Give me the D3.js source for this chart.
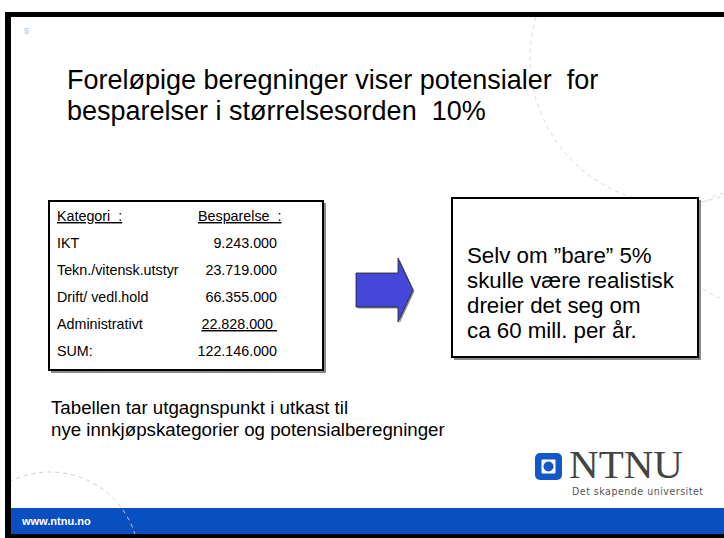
<!DOCTYPE html>
<html>
<head>
<meta charset="utf-8">
<script src="https://cdn.jsdelivr.net/npm/d3@7"></script>
<style>
  body { margin: 0; background: #fff; }
  svg { display: block; font-family: Arial, "Liberation Sans", sans-serif; }
  svg text { white-space: pre; }
</style>
</head>
<body>
<svg id="slide" width="724" height="538"></svg>
<script>
const titleLines = ['Foreløpige beregninger viser potensialer  for', 'besparelser i størrelsesorden  10%'];
const headers = ['Kategori  :', 'Besparelse  :'];
const categories = ['IKT', 'Tekn./vitensk.utstyr', 'Drift/ vedl.hold', 'Administrativt'];
const savings = [9243000, 23719000, 66355000, 22828000];
const sumLabel = 'SUM:';
const sumValue = 122146000;
const calloutLines = ['Selv om \u201dbare\u201d 5%', 'skulle være realistisk', 'dreier det seg om', 'ca 60 mill. per år.'];
const noteLines = ['Tabellen tar utgagnspunkt i utkast til', 'nye innkjøpskategorier og potensialberegninger'];

const svg = d3.select('#slide');
const W = 724, H = 538;
const nok = d3.formatLocale({ decimal: ',', thousands: '.', grouping: [3], currency: ['', ''] }).format(',d');

// frame
svg.append('rect').attr('x', 0).attr('y', 0).attr('width', W).attr('height', H).attr('fill', '#fff');
svg.append('rect').attr('x', 11).attr('y', 508).attr('width', W - 11).attr('height', 26).attr('fill', '#0a4fc2');

// dashed decoration circles
const clip = svg.append('clipPath').attr('id', 'inner');
clip.append('rect').attr('x', 11).attr('y', 17).attr('width', W - 11).attr('height', 517);
const deco = svg.append('g').attr('clip-path', 'url(#inner)')
  .attr('fill', 'none').attr('stroke-width', 1).attr('stroke-dasharray', '4,4');
deco.append('circle').attr('cx', 676).attr('cy', 58).attr('r', 146).attr('stroke', '#d8d8d8');
deco.append('circle').attr('cx', 738).attr('cy', 246).attr('r', 55).attr('stroke', '#d8d8d8');
deco.append('circle').attr('cx', 50).attr('cy', 561).attr('r', 89).attr('stroke', '#d0d0d0');

svg.append('rect').attr('x', 5).attr('y', 12).attr('width', W - 5).attr('height', 5).attr('fill', '#000');
svg.append('rect').attr('x', 5).attr('y', 12).attr('width', 6).attr('height', H - 12).attr('fill', '#000');
svg.append('rect').attr('x', 5).attr('y', 534).attr('width', W - 5).attr('height', 4).attr('fill', '#000');

// page number + footer url
svg.append('text').attr('x', 24).attr('y', 34).attr('font-size', 9).attr('font-weight', 'bold')
  .attr('fill', '#b9d0ea').text('5');
svg.append('text').attr('x', 22).attr('y', 525).attr('font-size', 11).attr('font-weight', 'bold')
  .attr('fill', '#fff').text('www.ntnu.no');

// title
svg.append('g').selectAll('text').data(titleLines).join('text')
  .attr('x', 67).attr('y', (d, i) => 89 + i * 31)
  .attr('font-size', 27).attr('fill', '#000').text(d => d);

// table
const rows = [headers].concat(categories.map((c, i) => [c, nok(savings[i])]), [[sumLabel, nok(sumValue)]]);
const y = d3.scalePoint().domain(d3.range(rows.length)).range([221, 356]);
const tbl = svg.append('g');
tbl.append('rect').attr('x', 51).attr('y', 203).attr('width', 275).attr('height', 170).attr('fill', '#8a8a8a');
tbl.append('rect').attr('x', 49).attr('y', 201).attr('width', 274).attr('height', 169)
  .attr('fill', '#fff').attr('stroke', '#000').attr('stroke-width', 2);
const row = tbl.selectAll('g.row').data(rows).join('g').attr('class', 'row')
  .attr('transform', (d, i) => `translate(0,${y(i)})`).attr('font-size', 14.3).attr('fill', '#000');
row.append('text').attr('x', 57).text(d => d[0])
  .attr('text-decoration', (d, i) => i === 0 ? 'underline' : null);
row.append('text')
  .attr('x', (d, i) => i === 0 ? 198 : 277)
  .attr('text-anchor', (d, i) => i === 0 ? 'start' : 'end')
  .attr('text-decoration', (d, i) => (i === 0 || i === categories.length) ? 'underline' : null)
  .text((d, i) => i === categories.length ? d[1] + '\u00a0' : d[1]);

// arrow
const arrow = d3.path();
arrow.moveTo(356, 273); arrow.lineTo(398, 273); arrow.lineTo(398, 258); arrow.lineTo(413, 290);
arrow.lineTo(398, 322); arrow.lineTo(398, 307); arrow.lineTo(356, 307); arrow.closePath();
svg.append('path').attr('d', arrow.toString()).attr('transform', 'translate(1.5,1.5)').attr('fill', '#909090');
svg.append('path').attr('d', arrow.toString()).attr('fill', '#4447d8').attr('stroke', '#222').attr('stroke-width', 0.8);

// callout box
const box = svg.append('g');
box.append('rect').attr('x', 454).attr('y', 200).attr('width', 247).attr('height', 160).attr('fill', '#8a8a8a');
box.append('rect').attr('x', 452).attr('y', 198).attr('width', 246).attr('height', 159)
  .attr('fill', '#fff').attr('stroke', '#000').attr('stroke-width', 2);
box.selectAll('text').data(calloutLines).join('text')
  .attr('x', 467).attr('y', (d, i) => 263 + i * 25)
  .attr('font-size', 22.3).attr('fill', '#000').text(d => d);

// note under table
svg.append('g').selectAll('text').data(noteLines).join('text')
  .attr('x', 51).attr('y', (d, i) => 414 + i * 21.5)
  .attr('font-size', 18.7).attr('fill', '#000').text(d => d);

// NTNU logo
const logo = svg.append('g');
logo.append('rect').attr('x', 535).attr('y', 453).attr('width', 27).attr('height', 27).attr('rx', 5).attr('fill', '#1457c9');
logo.append('rect').attr('x', 541.5).attr('y', 459.5).attr('width', 14).attr('height', 14).attr('rx', 1).attr('fill', '#fff');
logo.append('circle').attr('cx', 548.5).attr('cy', 466.5).attr('r', 5).attr('fill', '#1457c9');
logo.append('text').attr('x', 569).attr('y', 478).attr('font-family', '"Liberation Serif", "Times New Roman", serif')
  .attr('font-size', 39).attr('fill', '#444').attr('textLength', 114).attr('lengthAdjust', 'spacingAndGlyphs').text('NTNU');
logo.append('text').attr('x', 572).attr('y', 495).attr('font-family', '"DejaVu Sans Condensed", "DejaVu Sans", sans-serif')
  .attr('font-size', 10.5).attr('fill', '#555').attr('textLength', 131).attr('lengthAdjust', 'spacing')
  .text('Det skapende universitet');
</script>
</body>
</html>
